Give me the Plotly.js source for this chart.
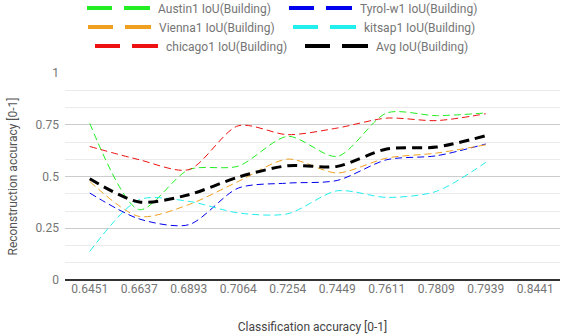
<!DOCTYPE html>
<html><head><meta charset="utf-8">
<script src="https://cdn.plot.ly/plotly-3.0.1.min.js"></script>
<style>html,body{margin:0;padding:0;background:#fff}#c{width:569px;height:336px}</style>
</head><body><div id="c"></div>
<script>
const categories = ['0.6451','0.6637','0.6893','0.7064','0.7254','0.7449','0.7611','0.7809','0.7939','0.8441'];
const austin  = [0.757,0.340,0.533,0.550,0.694,0.597,0.807,0.794,0.807];
const tyrol   = [0.420,0.295,0.267,0.444,0.468,0.481,0.581,0.600,0.657];
const vienna  = [0.476,0.307,0.364,0.476,0.584,0.517,0.589,0.613,0.653];
const kitsap  = [0.138,0.388,0.380,0.324,0.320,0.431,0.399,0.428,0.568];
const chicago = [0.645,0.581,0.533,0.745,0.702,0.734,0.782,0.770,0.803];
const avg     = [0.489,0.377,0.412,0.497,0.552,0.549,0.633,0.642,0.697];
const yTicks = [0, 0.25, 0.5, 0.75, 1];
const yTickText = ['0','0.25','0.5','0.75','1'];

const series = [
  {name:'Austin1 IoU(Building)', y:austin, color:'#22ee22', lx:87, ly:8},
  {name:'Tyrol-w1 IoU(Building)', y:tyrol, color:'#0000ee', lx:289, ly:8},
  {name:'Vienna1 IoU(Building)', y:vienna, color:'#f0a020', lx:88, ly:27},
  {name:'kitsap1 IoU(Building)', y:kitsap, color:'#22eeee', lx:293, ly:27},
  {name:'chicago1 IoU(Building)', y:chicago, color:'#ee1111', lx:95, ly:46},
  {name:'Avg IoU(Building)', y:avg, color:'#000000', lx:305, ly:46, thick:true}
];
const xs = categories.slice(0, 9);
const traces = [];
series.forEach(s => {
  traces.push({
    x: xs, y: s.y, type:'scatter', mode:'lines', name:s.name, showlegend:false,
    line:{color:s.color, width:s.thick?3:1, shape:'spline', smoothing:0.8,
          dash: s.thick?'10px,6px':'7px,4px'},
    hoverinfo:'skip'
  });
});
const layout = {
  width:569, height:336,
  margin:{l:65, r:9, t:73, b:56},
  paper_bgcolor:'#fff', plot_bgcolor:'#fff',
  font:{family:'Roboto', size:12, color:'#757575'},
  xaxis:{type:'category', categoryorder:'array', categoryarray:categories,
    range:[-0.5, 9.5], showgrid:false, showline:false, zeroline:false, ticks:'',
    tickfont:{family:'Roboto', size:12, color:'#757575'},
    title:{text:'Classification accuracy [0-1]', font:{family:'Roboto', size:12, color:'#444'}, standoff:27}},
  yaxis:{range:[0,1], tickvals:yTicks, ticktext:yTickText, showgrid:true, gridcolor:'#cccccc', gridwidth:1,
    minor:{dtick:0.25/3, showgrid:true, gridcolor:'#ebebeb', ticks:''},
    zeroline:true, zerolinecolor:'#333', zerolinewidth:1.5, showline:false, ticks:'',
    ticklabelstandoff:5,
    tickfont:{family:'Roboto', size:12, color:'#757575'},
    title:{text:'Reconstruction accuracy [0-1]', font:{family:'Roboto', size:12, color:'#555'}, standoff:15}}
};
series.forEach((s, i) => {
  const key = i === 0 ? 'legend' : 'legend' + (i + 1);
  layout[key] = {orientation:'h', xref:'container', yref:'container', xanchor:'left', yanchor:'middle',
    x:(s.lx - 5)/569, y:1 - s.ly/336, itemwidth:66, borderwidth:0, bgcolor:'rgba(0,0,0,0)',
    font:{family:'Roboto', size:12, color:'#757575'}};
  traces.push({
    x:[null], y:[null], type:'scatter', mode:'lines', name:s.name, showlegend:true,
    legend:key,
    line:{color:s.color, width:4, dash:'25px,12px,26px,200px'}
  });
});
Plotly.newPlot('c', traces, layout, {displayModeBar:false, staticPlot:true});
</script></body></html>
